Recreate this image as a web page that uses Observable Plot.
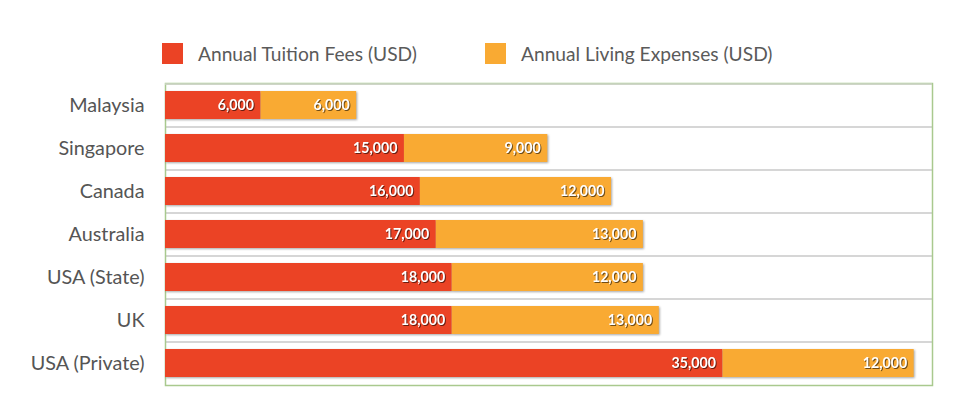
<!DOCTYPE html>
<html>
<head>
<meta charset="utf-8">
<script src="https://cdn.jsdelivr.net/npm/d3@7"></script>
<script src="https://cdn.jsdelivr.net/npm/@observablehq/plot@0.6"></script>
<style>
  html, body { margin: 0; padding: 0; background: #fff; }
  body { width: 975px; height: 398px; overflow: hidden; font-family: Lato, "Open Sans", sans-serif; }
  #legend { height: 82px; position: relative; }
  .item { position: absolute; top: 43px; height: 21px; display: flex; align-items: center; font-size: 19.2px; color: #5a5a5a; }
  .sw { width: 21px; height: 21px; margin-right: 15px; flex: none; }
  svg g[aria-label="bar"] { filter: drop-shadow(1px 1px 1px rgba(0,0,0,0.35)); }
  svg g[aria-label="text"].vals { filter: drop-shadow(1px 1px 0.6px rgba(0,0,0,0.55)); }
</style>
</head>
<body>
<div id="legend"></div>
<div id="chart"></div>
<script>
const countries = ["Malaysia", "Singapore", "Canada", "Australia", "USA (State)", "UK", "USA (Private)"];
const tuition = [6000, 15000, 16000, 17000, 18000, 18000, 35000];
const living = [6000, 9000, 12000, 13000, 12000, 13000, 12000];
const seriesNames = ["Annual Tuition Fees (USD)", "Annual Living Expenses (USD)"];
const colors = ["#EB4325", "#F9AA33"];

const data = [];
countries.forEach((c, i) => {
  data.push({country: c, type: seriesNames[0], value: tuition[i]});
  data.push({country: c, type: seriesNames[1], value: living[i]});
});

// legend
const legend = document.getElementById("legend");
const lefts = [162, 485];
seriesNames.forEach((s, i) => {
  const d = document.createElement("div");
  d.className = "item";
  d.style.left = lefts[i] + "px";
  d.innerHTML = `<span class="sw" style="background:${colors[i]}"></span><span>${s}</span>`;
  legend.appendChild(d);
});

const H = 316, mt = 1, mb = 13;
const step = (H - mt - mb) / countries.length;
const fmt = d3.format(",");

const chart = Plot.plot({
  width: 975,
  height: H,
  marginLeft: 165,
  marginRight: 43,
  marginTop: mt,
  marginBottom: mb,
  style: {fontFamily: "Lato, 'Open Sans', sans-serif", background: "#fff"},
  x: {domain: [0, 48150], axis: null},
  y: {domain: countries, paddingInner: 0.35, paddingOuter: 0.175, label: null, tickSize: 0, tickPadding: 21},
  color: {domain: seriesNames, range: colors},
  marks: [
    Plot.gridY(countries, {stroke: "#c8c8c8", strokeOpacity: 1, strokeWidth: 1.5, dy: -step / 2}),
    Plot.frame({stroke: "#a9c98e", strokeWidth: 1.5}),
    Plot.gridY([countries[0]], {stroke: "#cfd6c8", strokeOpacity: 1, strokeWidth: 1.5, dy: -step / 2}),
    Plot.barX(data, {x: "value", y: "country", fill: "type", order: seriesNames}),
    Plot.text(data, Plot.stackX2({x: "value", y: "country", z: "type", order: seriesNames, text: d => fmt(d.value),
      textAnchor: "end", dx: -7, fill: "white", fontSize: 14.2, fontWeight: "bold", className: "vals"})),
    Plot.axisY({tickSize: 0, tickPadding: 21, fontSize: 19.8, fill: "#555", label: null})
  ]
});
document.getElementById("chart").appendChild(chart);
</script>
</body>
</html>
